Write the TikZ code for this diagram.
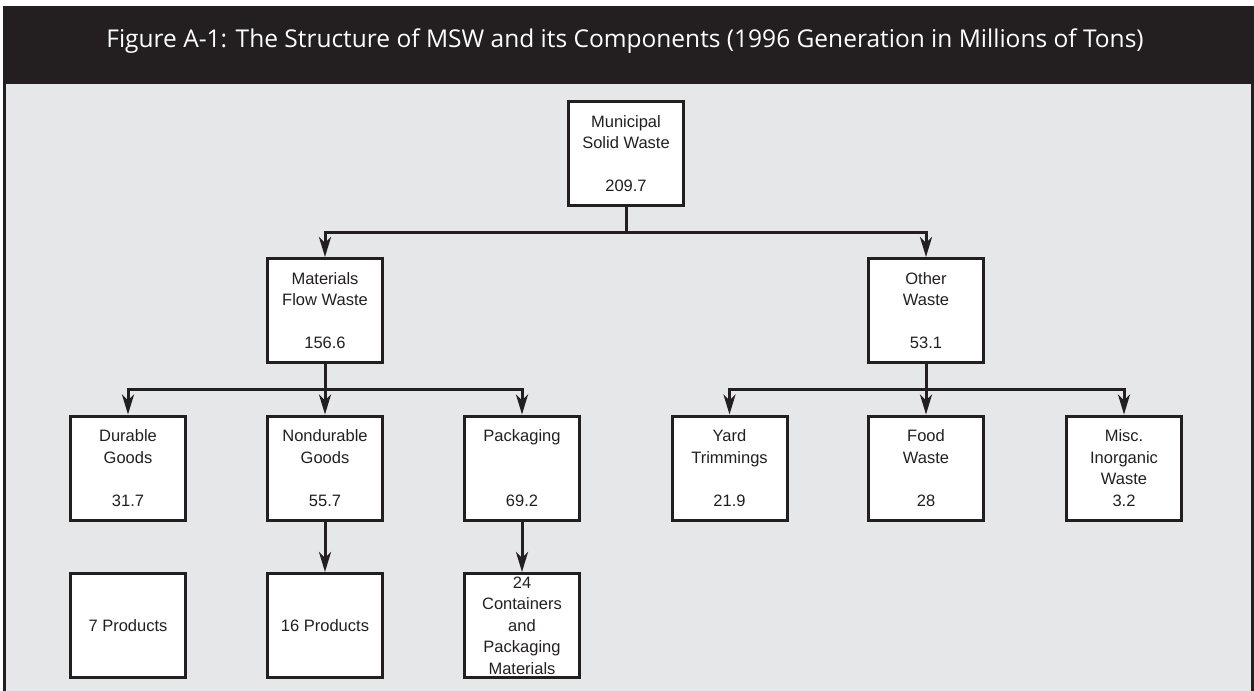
\documentclass[tikz,border=0pt]{standalone}
\usepackage{fontspec}
\setmainfont{Liberation Sans}
\newfontfamily\titlefont{Open Sans}
\usetikzlibrary{arrows.meta}
\definecolor{inkdark}{HTML}{231F20}
\definecolor{panelgray}{HTML}{E6E7E8}

\begin{document}
\begin{tikzpicture}[x=1pt, y=-1pt,
	box/.style={draw=inkdark, fill=white, line width=3pt, minimum width=115pt, minimum height=104pt,
		inner sep=0pt, align=center, text=inkdark, font=\fontsize{16.5}{21.5}\selectfont},
	link/.style={draw=inkdark, line width=3pt, line join=miter, -{Stealth[length=20pt, width=12pt, inset=6pt]}}]
	\clip (0,0) rectangle (1254,691);

	%frame
	\fill[white] (0,0) rectangle (1254,691);
	\fill[inkdark] (3,6) rectangle (1254,82);
	\draw[inkdark, fill=panelgray, line width=3pt] (4.5,82) rectangle (1252.5,710);
	\node[text=white, font=\titlefont\fontsize{24.5}{28}\selectfont] (title) at (625,41)
		{Figure A-1: The Structure of MSW and its Components (1996 Generation in Millions of Tons)};

	%top
	\node[box] (msw) at (626,153.5) {Municipal\\Solid Waste\\[21.5pt]209.7};

	%second row
	\node[box] (mfw) at (325,310.5) {Materials\\Flow Waste\\[21.5pt]156.6};
	\node[box] (oth) at (926,310.5) {Other\\Waste\\[21.5pt]53.1};

	%third row
	\node[box] (dur) at (128,468) {Durable\\Goods\\[21.5pt]31.7};
	\node[box] (nond) at (325,468) {Nondurable\\Goods\\[21.5pt]55.7};
	\node[box] (pack) at (522,468) {Packaging\\[43pt]69.2};
	\node[box] (yard) at (729.5,468) {Yard\\Trimmings\\[21.5pt]21.9};
	\node[box] (food) at (926,468) {Food\\Waste\\[21.5pt]28};
	\node[box] (misc) at (1124,468) {Misc.\\Inorganic\\Waste\\3.2};

	%products
	\node[box] (prod7) at (128,625.5) {7 Products};
	\node[box] (prod16) at (325,625.5) {16 Products};
	\node[box] (prod24) at (522,625.5) {24\\Containers\\and\\Packaging\\Materials};

	%links
	\draw[link] (msw.south) -- ++(0,25) -| (mfw.north);
	\draw[link] (msw.south) -- ++(0,25) -| (oth.north);
	\draw[link] (mfw.south) -- ++(0,25) -| (dur.north);
	\draw[link] (mfw.south) -- (nond.north);
	\draw[link] (mfw.south) -- ++(0,25) -| (pack.north);
	\draw[link] (oth.south) -- ++(0,25) -| (yard.north);
	\draw[link] (oth.south) -- (food.north);
	\draw[link] (oth.south) -- ++(0,25) -| (misc.north);
	\draw[link] (nond.south) -- (prod16.north);
	\draw[link] (pack.south) -- (prod24.north);
\end{tikzpicture}
\end{document}
